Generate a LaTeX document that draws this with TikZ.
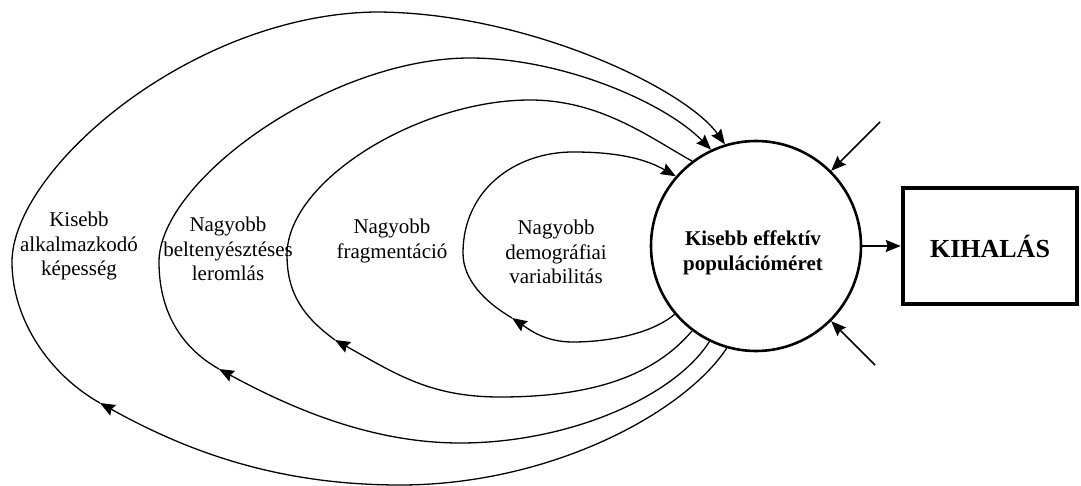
\documentclass[tikz,border=0pt]{standalone}
\usepackage{fontspec}
\setmainfont{Liberation Serif}
\usetikzlibrary{arrows.meta}
\begin{document}
\begin{tikzpicture}[x=1pt,y=-1pt,
  tip/.tip={Stealth[length=15pt,width=12pt,inset=2pt]},
  loopline/.style={line width=1.3pt,-{tip}},
  pcircle/.style={circle,draw,line width=2.6pt,minimum size=210pt,inner sep=0pt},
  endbox/.style={rectangle,draw,line width=4.5pt,minimum width=174pt,minimum height=116pt,inner sep=0pt,
    font=\fontsize{26}{30}\selectfont\bfseries},
  lbl/.style={align=center,font=\fontsize{21}{24.5}\selectfont,inner sep=0pt},
  blbl/.style={align=center,font=\fontsize{21}{24.5}\selectfont\bfseries,inner sep=0pt},
  feed/.style={line width=1.5pt,-{tip}}]
\useasboundingbox (0,0) rectangle (1081,486);

% central node and the outcome box
\node[pcircle] (c) at (756,246) {};
\node[blbl] (ctext) at (753,253) {Kisebb effektív\\populációméret};
\node[endbox] (b) at (990,246) {KIHALÁS};
\draw[feed] (c.east) -- (b.west);

% outside influences
\coordinate (in1) at (880,122);
\coordinate (in2) at (875,365);
\draw[feed] (in1) -- (c.45);
\draw[feed] (in2) -- (c.-45);

% loop labels
\node[lbl] (l1) at (79,246) {Kisebb\\alkalmazkodó\\képesség};
\node[lbl] (l2) at (228,249) {Nagyobb\\beltenyésztéses\\leromlás};
\node[lbl] (l3) at (392,241) {Nagyobb\\fragmentáció};
\node[lbl] (l4) at (556,252) {Nagyobb\\demográfiai\\variabilitás};

% arrow points on the feedback loops
\coordinate (a1) at (100,403);
\coordinate (a2) at (219,369);
\coordinate (a3) at (335,340);
\coordinate (a4) at (512,318);

% outer loop: adaptability
\draw[loopline] (c.254.6) .. controls (684,413) and (550,485) .. (400,485)
  .. controls (280,485) and (190,453) .. (a1);
\draw[loopline] (a1) .. controls (50,375) and (12,320) .. (12,262)
  .. controls (12,170) and (190,15) .. (375,12)
  .. controls (525,12) and (685,88) .. (c.107);

% inbreeding depression
\draw[loopline] (c.244.4) .. controls (675,396) and (570,443) .. (460,443)
  .. controls (370,443) and (289,407) .. (a2);
\draw[loopline] (a2) .. controls (180,347) and (159,310) .. (159,262)
  .. controls (159,180) and (330,58) .. (470,58)
  .. controls (560,58) and (663,101) .. (c.115);

% fragmentation (its upper end has no arrowhead)
\draw[loopline] (c.233.3) .. controls (653,377) and (590,397) .. (500,397)
  .. controls (430,397) and (396,374) .. (a3);
\draw[line width=1.3pt] (a3) .. controls (305,318) and (287,295) .. (287,255)
  .. controls (287,180) and (420,100) .. (530,100)
  .. controls (600,100) and (649,137) .. (c.127);

% demographic variability
\draw[loopline] (c.220) .. controls (650,335) and (605,342) .. (573,342)
  .. controls (545,342) and (530,330) .. (a4);
\draw[loopline] (a4) .. controls (485,302) and (463,280) .. (463,253)
  .. controls (463,190) and (515,152) .. (573,152)
  .. controls (615,152) and (644,158) .. (c.139.5);
\end{tikzpicture}
\end{document}
